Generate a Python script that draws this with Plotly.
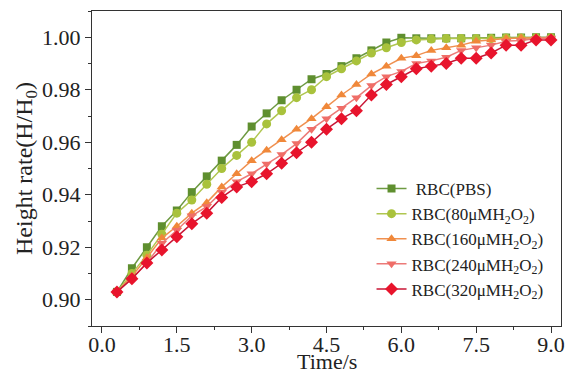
import plotly.graph_objects as go

time_s = [0.3, 0.6, 0.9, 1.2, 1.5, 1.8, 2.1, 2.4, 2.7, 3.0,
          3.3, 3.6, 3.9, 4.2, 4.5, 4.8, 5.1, 5.4, 5.7, 6.0,
          6.3, 6.6, 6.9, 7.2, 7.5, 7.8, 8.1, 8.4, 8.7, 9.0]

pbs = [0.903, 0.912, 0.920, 0.928, 0.934, 0.941, 0.947, 0.953, 0.959, 0.966,
       0.971, 0.976, 0.980, 0.984, 0.986, 0.989, 0.992, 0.995, 0.998, 0.9998,
       0.9996, 0.9996, 0.9996, 0.9996, 0.9996, 0.9998, 0.9999, 0.9999, 1.000, 1.000]

h80 = [0.903, 0.910, 0.917, 0.925, 0.933, 0.938, 0.944, 0.950, 0.955, 0.960,
       0.967, 0.972, 0.977, 0.980, 0.985, 0.988, 0.991, 0.994, 0.996, 0.998,
       0.999, 0.9993, 0.9995, 0.9995, 0.9995, 0.9995, 0.9997, 0.9997, 0.9998, 0.9998]

h160 = [0.903, 0.909, 0.916, 0.9235, 0.928, 0.933, 0.937, 0.943, 0.948, 0.953,
        0.957, 0.961, 0.965, 0.969, 0.9735, 0.978, 0.982, 0.986, 0.989, 0.992,
        0.993, 0.995, 0.996, 0.997, 0.9985, 0.999, 0.9995, 0.9997, 0.9997, 0.9997]

h240 = [0.903, 0.908, 0.914, 0.9215, 0.9265, 0.932, 0.9355, 0.941, 0.945, 0.948,
        0.9517, 0.9553, 0.9595, 0.965, 0.969, 0.973, 0.977, 0.9816, 0.985, 0.987,
        0.990, 0.991, 0.9924, 0.995, 0.996, 0.997, 0.9985, 0.9988, 0.9995, 0.9997]

h320 = [0.903, 0.908, 0.914, 0.919, 0.924, 0.929, 0.933, 0.939, 0.943, 0.945,
        0.948, 0.952, 0.956, 0.960, 0.965, 0.969, 0.972, 0.978, 0.982, 0.985,
        0.988, 0.989, 0.990, 0.992, 0.992, 0.994, 0.997, 0.997, 0.999, 0.999]

series_names = [" RBC(PBS)",
                "RBC(80μMH<sub>2</sub>O<sub>2</sub>)",
                "RBC(160μMH<sub>2</sub>O<sub>2</sub>)",
                "RBC(240μMH<sub>2</sub>O<sub>2</sub>)",
                "RBC(320μMH<sub>2</sub>O<sub>2</sub>)"]
series_values = [pbs, h80, h160, h240, h320]
colors = ["#5f8f2f", "#a9c23c", "#f0883a", "#ef6e68", "#e8142c"]
line_colors = ["#6e9a42", "#b0c650", "#f09050", "#ec7a78", "#c81535"]
symbols = ["square", "circle", "triangle-up", "triangle-down", "diamond"]
sizes = [8, 9, 9, 9, 10]

x_title = "Time/s"
y_title = "Height rate(H/H<sub>0</sub>)"

FONT = "Liberation Serif, Times New Roman, serif"

fig = go.Figure()
for name, vals, c, lc, sym, sz in zip(series_names, series_values, colors, line_colors, symbols, sizes):
    fig.add_trace(go.Scatter(
        x=time_s, y=vals, name=name, mode="lines+markers",
        line=dict(color=lc, width=1.5),
        marker=dict(symbol=sym, size=sz, color=c, line=dict(width=0)),
    ))

axis_common = dict(
    showline=True, linecolor="#333333", linewidth=1, mirror=True,
    ticks="outside", ticklen=6, tickwidth=1, tickcolor="#333333",
    showgrid=False, zeroline=False, automargin=False,
    tickfont=dict(family=FONT, size=22, color="#222222"),
)

fig.update_xaxes(
    range=[-0.2, 9.2], tick0=0, dtick=1.5, tickformat=".1f",
    ticklabelstandoff=-7,
    minor=dict(ticks="outside", ticklen=3, dtick=0.75, tickcolor="#333333"),
    **axis_common,
)
fig.update_yaxes(
    range=[0.89, 1.01], tick0=0.9, dtick=0.02, tickformat=".2f",
    minor=dict(ticks="outside", ticklen=3, dtick=0.01, tickcolor="#333333"),
    title=dict(text=y_title, font=dict(family=FONT, size=24, color="#222222"), standoff=2),
    **axis_common,
)

fig.add_annotation(
    text=x_title, xref="paper", yref="paper", x=0.5, y=0,
    xanchor="center", yanchor="bottom", yshift=-50, showarrow=False,
    font=dict(family=FONT, size=22, color="#222222"),
)

fig.update_layout(
    width=566, height=377,
    margin=dict(l=92, r=5, t=11, b=51),
    paper_bgcolor="white", plot_bgcolor="white",
    showlegend=True,
    legend=dict(
        x=0.596, y=0.492, xanchor="left", yanchor="top",
        font=dict(family=FONT, size=17, color="#222222"),
        bgcolor="rgba(0,0,0,0)", borderwidth=0,
        tracegroupgap=0,
    ),
)

fig.write_html("out.html")
